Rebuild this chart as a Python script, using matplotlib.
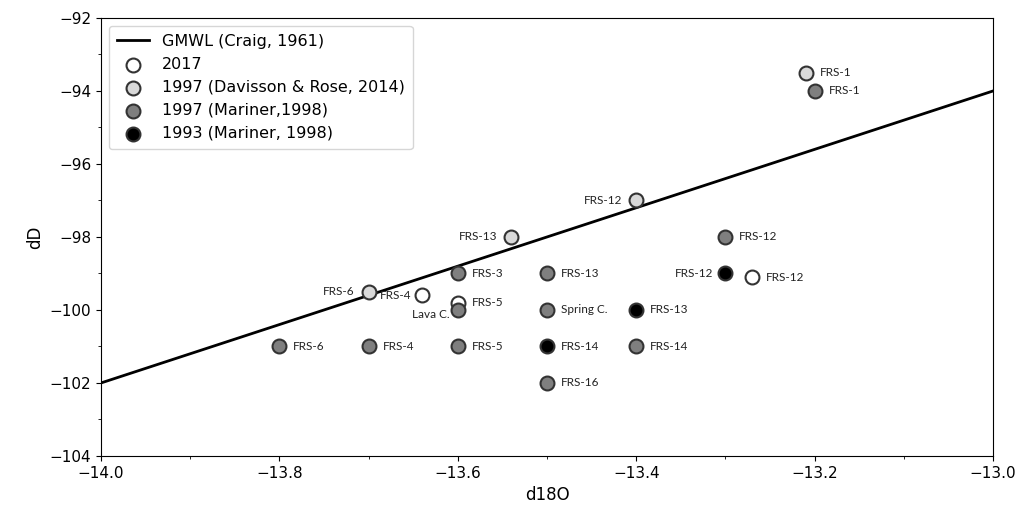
import numpy as np
from matplotlib import pyplot as plt
from matplotlib.ticker import AutoMinorLocator, MultipleLocator

# Global meteoric water line (Craig, 1961), end points of the drawn segment
gmwl_d18o = [-14.0, -13.0]
gmwl_dd = [-102.0, -94.0]

# 2017 samples
s2017_d18o = [-13.64, -13.60, -13.27]
s2017_dd = [-99.6, -99.8, -99.1]
s2017_labels = ["FRS-4", "FRS-5", "FRS-12"]

# 1997 (Davisson & Rose, 2014)
dr1997_d18o = [-13.21, -13.40, -13.54, -13.70]
dr1997_dd = [-93.5, -97.0, -98.0, -99.5]
dr1997_labels = ["FRS-1", "FRS-12", "FRS-13", "FRS-6"]

# 1997 (Mariner, 1998)
m1997_d18o = [-13.2, -13.3, -13.6, -13.5, -13.6, -13.5, -13.8, -13.7, -13.6, -13.4, -13.5]
m1997_dd = [-94.0, -98.0, -99.0, -99.0, -100.0, -100.0, -101.0, -101.0, -101.0, -101.0, -102.0]
m1997_labels = ["FRS-1", "FRS-12", "FRS-3", "FRS-13", "Lava C.", "Spring C.",
                "FRS-6", "FRS-4", "FRS-5", "FRS-14", "FRS-16"]

# 1993 (Mariner, 1998)
m1993_d18o = [-13.3, -13.4, -13.5]
m1993_dd = [-99.0, -100.0, -101.0]
m1993_labels = ["FRS-12", "FRS-13", "FRS-14"]

# Labels that sit to the left of their marker (series, label) -> offset in points
left_offsets = {
    ("2017", "FRS-4"): (-8, 0),
    ("dr1997", "FRS-12"): (-10, 0),
    ("dr1997", "FRS-13"): (-10, 0),
    ("dr1997", "FRS-6"): (-10, 0),
    ("m1997", "Lava C."): (-6, -3),
    ("m1993", "FRS-12"): (-9, 0),
}

series = [
    ("2017", s2017_d18o, s2017_dd, s2017_labels, "white", "2017"),
    ("dr1997", dr1997_d18o, dr1997_dd, dr1997_labels, "#d9d9d9", "1997 (Davisson & Rose, 2014)"),
    ("m1997", m1997_d18o, m1997_dd, m1997_labels, "#7f7f7f", "1997 (Mariner,1998)"),
    ("m1993", m1993_d18o, m1993_dd, m1993_labels, "black", "1993 (Mariner, 1998)"),
]

fig, ax = plt.subplots(figsize=(10.21, 5.14), dpi=100)
fig.subplots_adjust(left=0.099, right=0.9726, top=0.965, bottom=0.113)

ax.plot(gmwl_d18o, gmwl_dd, color="black", linewidth=2, label="GMWL (Craig, 1961)", zorder=2)

for key, xs, ys, labels, color, name in series:
    ax.scatter(xs, ys, s=100, c=color, edgecolors="#333333", linewidths=1.5, label=name, zorder=3)
    for x, y, text in zip(xs, ys, labels):
        offset = left_offsets.get((key, text), (10, 0))
        ax.annotate(
            text,
            xy=(x, y),
            xytext=offset,
            textcoords="offset points",
            ha="right" if offset[0] < 0 else "left",
            va="center",
            fontsize=8.5,
            family="Lato",
            color="#222222",
            zorder=4,
        )

ax.set_xlim(-14.0, -13.0)
ax.set_ylim(-104, -92)
ax.xaxis.set_major_locator(MultipleLocator(0.2))
ax.yaxis.set_major_locator(MultipleLocator(2))
ax.xaxis.set_minor_locator(AutoMinorLocator(2))
ax.yaxis.set_minor_locator(AutoMinorLocator(2))
ax.tick_params(labelsize=11)
ax.set_xlabel("d18O", fontsize=12)
ax.set_ylabel("dD", fontsize=12)

ax.legend(loc="upper left", fontsize=11.5, handletextpad=0.8, borderpad=0.5)

fig.savefig("out.png")
